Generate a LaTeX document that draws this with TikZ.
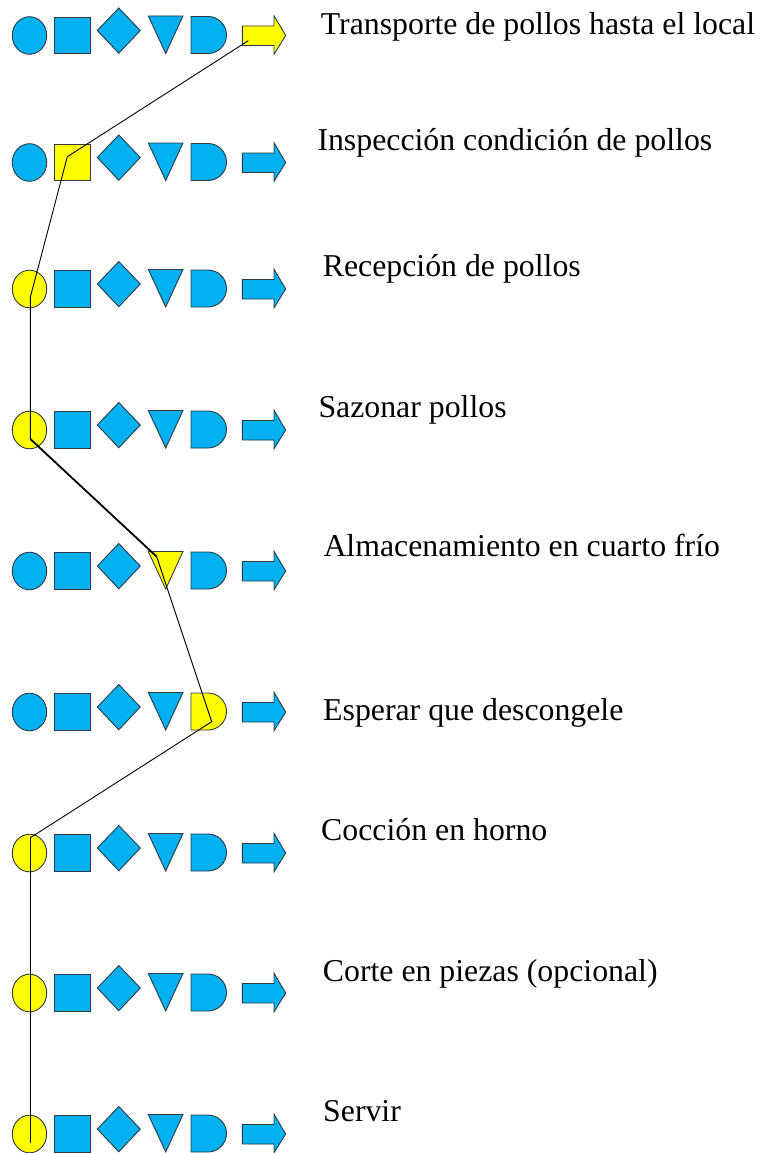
\documentclass[tikz,border=0pt]{standalone}
\usepackage{fontspec}
\setmainfont{Liberation Serif}
\newfontfamily\lblfont{Liberation Serif}
\definecolor{procblue}{HTML}{00B0F0}
\definecolor{procyel}{HTML}{FFFF00}
\definecolor{procedge}{HTML}{2E3B44}
\tikzset{
  shp/.style={draw=procedge, line width=0.9pt, line join=miter},
  lbl/.style={anchor=base west, inner sep=0pt, font=\lblfont\fontsize{31.8}{36}\selectfont},
  flow/.style={draw=black, line width=0.9pt},
  flowbold/.style={draw=black, line width=1.8pt}
}
% #1 = row centre y, #2..#7 = fill colours of circle, square, diamond, triangle, delay, arrow
\newcommand{\filaproc}[7]{%
  \draw[shp, fill=#2] (29.5,#1) ellipse [x radius=17.2pt, y radius=18.8pt];
  \draw[shp, fill=#3] (54.3,#1-18.5) rectangle (90,#1+18);
  \draw[shp, fill=#4] (97.3,#1-5) -- (118.8,#1-27.5) -- (140.3,#1-5) -- (118.8,#1+17.8) -- cycle;
  \draw[shp, fill=#5] (148.3,#1-19.5) -- (183,#1-19.5) -- (165.7,#1+18) -- cycle;
  \draw[shp, fill=#6] (191,#1-19) -- (208,#1-19) arc[start angle=90, end angle=-90, radius=18.5pt] -- (191,#1+18) -- cycle;
  \draw[shp, fill=#7] (242.3,#1-9.5) -- (274,#1-9.5) -- (274,#1-19.8) -- (285.7,#1) -- (274,#1+18.8) -- (274,#1+10) -- (242.3,#1+10) -- cycle;
}
\begin{document}
\begin{tikzpicture}[x=1pt, y=-1pt]
\useasboundingbox (0,0) rectangle (763,1153);

\filaproc{35.5}{procblue}{procblue}{procblue}{procblue}{procblue}{procyel}
\filaproc{162.5}{procblue}{procyel}{procblue}{procblue}{procblue}{procblue}
\filaproc{289}{procyel}{procblue}{procblue}{procblue}{procblue}{procblue}
\filaproc{430}{procyel}{procblue}{procblue}{procblue}{procblue}{procblue}
\filaproc{571}{procblue}{procblue}{procblue}{procyel}{procblue}{procblue}
\filaproc{712}{procblue}{procblue}{procblue}{procblue}{procyel}{procblue}
\filaproc{853}{procyel}{procblue}{procblue}{procblue}{procblue}{procblue}
\filaproc{993}{procyel}{procblue}{procblue}{procblue}{procblue}{procblue}
\filaproc{1134}{procyel}{procblue}{procblue}{procblue}{procblue}{procblue}

% connector points
\coordinate (p1) at (248.3,40.7);
\coordinate (p2) at (67.3,156.7);
\coordinate (p3) at (30.3,297.3);
\coordinate (p4) at (30.3,439);
\coordinate (p5) at (156.7,556.7);
\coordinate (p6) at (211.7,721.7);
\coordinate (p7) at (31,837.3);
\coordinate (p7b) at (30.3,837.3);
\coordinate (p9) at (30.3,1143);

\draw[flow] (p1) -- (p2) -- (p3) -- (p4);
\draw[flowbold] (p4) -- (p5);
\draw[flow] (p5) -- (p6) -- (p7);
\draw[flow] (p7b) -- (p9);

% labels
\node[lbl] (t1) at (320.7,35) {Transporte de pollos hasta el local};
\node[lbl] (t2) at (317.3,150) {Inspección condición de pollos};
\node[lbl] (t3) at (322.7,276.7) {Recepción de pollos};
\node[lbl] (t4) at (318.3,417.3) {Sazonar pollos};
\node[lbl] (t5) at (323.3,556.7) {Almacenamiento en cuarto frío};
\node[lbl] (t6) at (323,720.7) {Esperar que descongele};
\node[lbl] (t7) at (321,840) {Cocción en horno};
\node[lbl] (t8) at (322.7,981.7) {Corte en piezas (opcional)};
\node[lbl] (t9) at (323,1121.7) {Servir};
\end{tikzpicture}
\end{document}
